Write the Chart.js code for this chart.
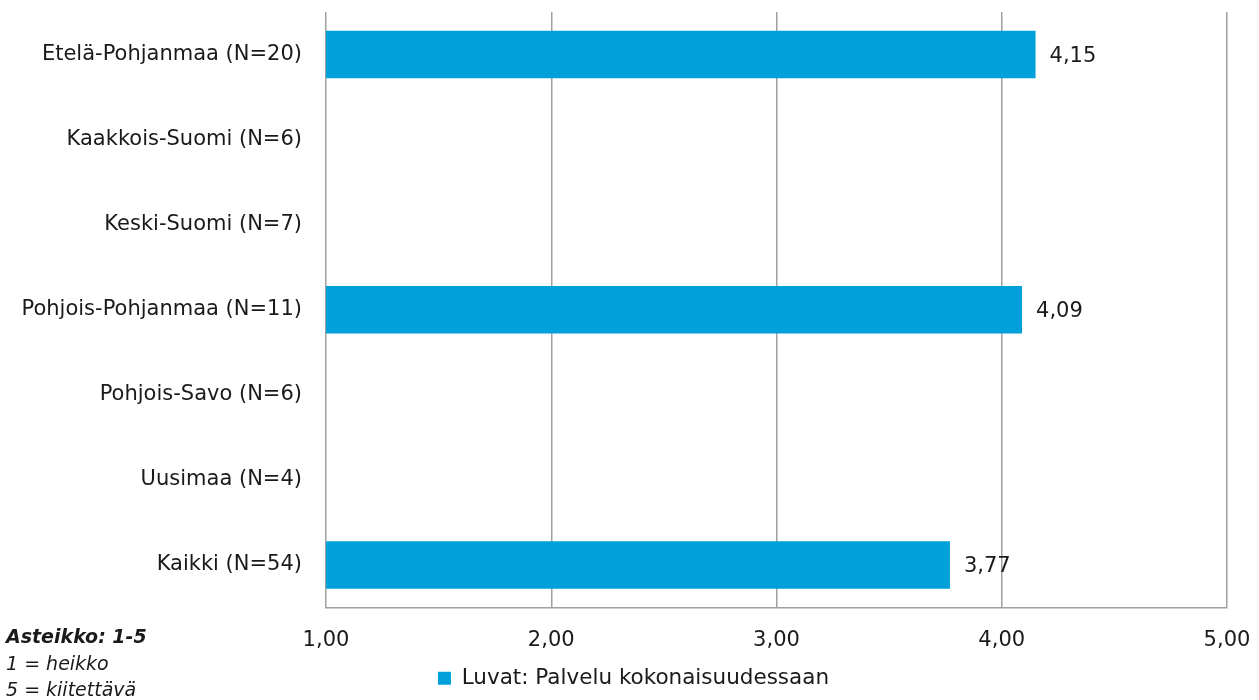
<!DOCTYPE html>
<html>
<head>
<meta charset="utf-8">
<script src="https://cdn.jsdelivr.net/npm/chart.js@4/dist/chart.umd.min.js"></script>
<style>
  html, body { margin: 0; padding: 0; background: #fff; }
  #wrap { width: 1259px; height: 700px; }
</style>
</head>
<body>
<div id="wrap"><canvas id="Bar-Chart" width="1259" height="700"></canvas></div>
<script>
let labels1 = ['Etelä-Pohjanmaa (N=20)', 'Kaakkois-Suomi (N=6)', 'Keski-Suomi (N=7)',
  'Pohjois-Pohjanmaa (N=11)', 'Pohjois-Savo (N=6)', 'Uusimaa (N=4)', 'Kaikki (N=54)'];
let data1 = [4.15, null, null, 4.09, null, null, 3.77];
let seriesName = 'Luvat: Palvelu kokonaisuudessaan';
let xTicks = [1, 2, 3, 4, 5];
let scaleNotes = ['Asteikko: 1-5', '1 = heikko', '5 = kiitettävä'];

let fmt = v => v.toFixed(2).replace('.', ',');
let FONT = 'DejaVu Sans';

// value labels next to the bars + scale note bottom left
let extras = {
  id: 'extras',
  afterLayout(chart) {
    // legend sits a little right of centre in the original
    chart.legend.left += 40;
  },
  afterDatasetsDraw(chart) {
    let ctx = chart.ctx;
    ctx.save();
    ctx.font = '21px "' + FONT + '"';
    ctx.fillStyle = '#1a1a1a';
    ctx.textBaseline = 'middle';
    ctx.textAlign = 'left';
    chart.getDatasetMeta(0).data.forEach((bar, i) => {
      if (data1[i] == null) return;
      ctx.fillText(fmt(data1[i]), bar.x + 14, bar.y + 2);
    });
    ctx.font = 'italic bold 19px "' + FONT + '"';
    ctx.fillText(scaleNotes[0], 6, 638);
    ctx.font = 'italic 19px "' + FONT + '"';
    ctx.fillText(scaleNotes[1], 6, 665);
    ctx.fillText(scaleNotes[2], 6, 691);
    ctx.restore();
  }
};

let chart1 = new Chart(document.getElementById('Bar-Chart').getContext('2d'), {
  type: 'bar',
  data: {
    labels: labels1,
    datasets: [{
      label: seriesName,
      data: data1,
      backgroundColor: '#00a0da',
      barPercentage: 0.56,
      categoryPercentage: 1
    }]
  },
  options: {
    indexAxis: 'y',
    responsive: false,
    animation: false,
    layout: { padding: { left: 0, right: 32, top: 12, bottom: 1 } },
    scales: {
      x: {
        min: 1, max: 5,
        afterBuildTicks: s => { s.ticks = xTicks.map(v => ({ value: v })); },
        afterFit: s => { s.height = 50; s.paddingRight = 0; s.paddingLeft = 0; },
        grid: { color: '#a0a0a0', lineWidth: 1.5, drawTicks: false },
        border: { color: '#a0a0a0', width: 1.5 },
        ticks: {
          callback: v => fmt(v),
          color: '#1a1a1a',
          padding: 20,
          font: { family: FONT, size: 21 }
        }
      },
      y: {
        afterFit: s => { s.width = 326; s.paddingTop = 0; s.paddingBottom = 0; },
        grid: { display: false, drawTicks: false },
        border: { display: false },
        ticks: {
          color: '#1a1a1a',
          padding: 24,
          font: { family: FONT, size: 21 }
        }
      }
    },
    plugins: {
      legend: {
        position: 'bottom',
        labels: {
          color: '#1a1a1a',
          boxWidth: 13, boxHeight: 13,
          font: { family: FONT, size: 21.5 }
        }
      },
      tooltip: { enabled: false }
    }
  },
  plugins: [extras]
});
</script>
</body>
</html>
